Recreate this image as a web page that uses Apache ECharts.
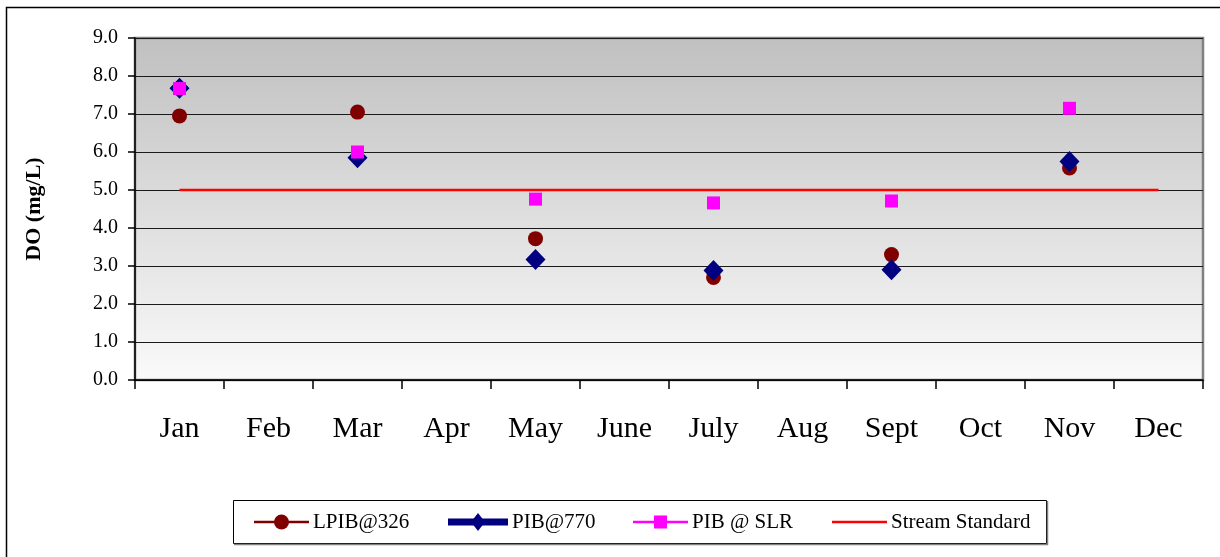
<!DOCTYPE html>
<html>
<head>
<meta charset="utf-8">
<script src="https://cdn.jsdelivr.net/npm/echarts@6/dist/echarts.min.js"></script>
<style>
  html, body { margin: 0; padding: 0; background: #ffffff; }
  #chart { width: 1220px; height: 557px; }
</style>
</head>
<body>
<div id="chart"></div>
<script>
// Dissolved oxygen by sampling month
const months = ['Jan', 'Feb', 'Mar', 'Apr', 'May', 'June', 'July', 'Aug', 'Sept', 'Oct', 'Nov', 'Dec'];
const lpib326 = [6.95, null, 7.05, null, 3.72, null, 2.70, null, 3.30, null, 5.58, null];
const pib770  = [7.68, null, 5.85, null, 3.17, null, 2.88, null, 2.90, null, 5.75, null];
const pibSlr  = [7.67, null, 6.00, null, 4.76, null, 4.66, null, 4.71, null, 7.15, null];
const streamStandard = [5.0, 5.0, 5.0, 5.0, 5.0, 5.0, 5.0, 5.0, 5.0, 5.0, 5.0, 5.0];
const yTicks = { min: 0, max: 9, interval: 1 };
const seriesNames = ['LPIB@326', 'PIB@770', 'PIB @ SLR', 'Stream Standard'];

const serif = 'Liberation Serif';
const colors = { lpib: '#800000', pib: '#000080', slr: '#ff00ff', std: '#ff0000' };
const chart = echarts.init(document.getElementById('chart'), null, { renderer: 'canvas' });

function markerSeries(name, data, symbol, size, color, z) {
  return {
    name: name,
    type: 'scatter',
    data: data,
    symbol: symbol,
    symbolSize: size,
    itemStyle: { color: color, opacity: 1, borderWidth: 0 },
    emphasis: { disabled: true },
    silent: true,
    z: z
  };
}

// Legend box drawn as a group: frame, line samples with markers, and names
const legendY = 522;
function legendItem(x0, x1, lineWidth, color, markerShape, label) {
  const parts = [
    { type: 'line', shape: { x1: x0, y1: legendY, x2: x1, y2: legendY },
      style: { stroke: color, lineWidth: lineWidth } }
  ];
  const cx = (x0 + x1) / 2;
  if (markerShape === 'circle') {
    parts.push({ type: 'circle', shape: { cx: cx, cy: legendY, r: 7.5 }, style: { fill: color } });
  } else if (markerShape === 'diamond') {
    parts.push({ type: 'polygon', shape: { points: [[cx, legendY - 9], [cx + 7, legendY], [cx, legendY + 9], [cx - 7, legendY]] },
      style: { fill: color } });
  } else if (markerShape === 'rect') {
    parts.push({ type: 'rect', shape: { x: cx - 6.5, y: legendY - 6.5, width: 13, height: 13 }, style: { fill: color } });
  }
  parts.push({ type: 'text', x: x1 + 4, y: legendY,
    style: { text: label, fontFamily: serif, fontSize: 21, fill: '#000000', verticalAlign: 'middle', align: 'left' } });
  return parts;
}

const legendElements = [].concat(
  [{ type: 'rect', shape: { x: 233.5, y: 500.5, width: 813, height: 43 },
     style: { fill: '#ffffff', stroke: '#000000', lineWidth: 1 } },
   { type: 'line', shape: { x1: 234, y1: 544.5, x2: 1048, y2: 544.5 },
     style: { stroke: '#808080', lineWidth: 1.5 } },
   { type: 'line', shape: { x1: 1047.5, y1: 501, x2: 1047.5, y2: 545 },
     style: { stroke: '#808080', lineWidth: 1.5 } }],
  legendItem(254, 309, 2.5, colors.lpib, 'circle', seriesNames[0]),
  legendItem(448, 508, 7, colors.pib, 'diamond', seriesNames[1]),
  legendItem(633, 688, 2.5, colors.slr, 'rect', seriesNames[2]),
  legendItem(832, 887, 2.5, colors.std, null, seriesNames[3])
);

chart.setOption({
  animation: false,
  grid: {
    left: 135, right: 17, top: 38, bottom: 177,
    show: true,
    borderColor: '#808080',
    borderWidth: 2.5,
    backgroundColor: new echarts.graphic.LinearGradient(0, 0, 0, 1, [
      { offset: 0, color: '#c0c0c0' },
      { offset: 1, color: '#fafafa' }
    ])
  },
  xAxis: {
    type: 'category',
    data: months,
    boundaryGap: true,
    axisLine: { show: true, lineStyle: { color: '#000000', width: 1.5 } },
    axisTick: { show: true, alignWithLabel: false, length: 9, lineStyle: { color: '#000000', width: 1.5 } },
    axisLabel: { fontFamily: serif, fontSize: 30, color: '#000000', margin: 34, interval: 0 },
    splitLine: { show: false }
  },
  yAxis: {
    type: 'value',
    min: yTicks.min, max: yTicks.max, interval: yTicks.interval,
    name: 'DO (mg/L)',
    nameLocation: 'middle',
    nameGap: 90,
    nameRotate: 90,
    nameTextStyle: { fontFamily: serif, fontSize: 22, fontWeight: 'bold', color: '#000000' },
    axisLine: { show: true, lineStyle: { color: '#000000', width: 1.5 } },
    axisTick: { show: true, length: 7, lineStyle: { color: '#000000', width: 1.5 } },
    axisLabel: { fontFamily: serif, fontSize: 20, color: '#000000', margin: 17,
      formatter: v => v.toFixed(1) },
    splitLine: { show: true, lineStyle: { color: '#1a1a1a', width: 1 } }
  },
  series: [
    markerSeries(seriesNames[0], lpib326, 'circle', 15, colors.lpib, 3),
    markerSeries(seriesNames[1], pib770, 'diamond', [20, 21], colors.pib, 4),
    markerSeries(seriesNames[2], pibSlr, 'rect', 13, colors.slr, 5),
    {
      name: seriesNames[3],
      type: 'line',
      data: streamStandard,
      symbol: 'none',
      showSymbol: false,
      lineStyle: { color: colors.std, width: 2.5 },
      itemStyle: { color: colors.std },
      emphasis: { disabled: true },
      silent: true,
      z: 2
    }
  ],
  graphic: [
    {
      type: 'rect',
      shape: { x: 6.5, y: 7.5, width: 1300, height: 600 },
      style: { fill: null, stroke: '#000000', lineWidth: 1.5 },
      silent: true,
      z: -1
    },
    {
      type: 'group',
      silent: true,
      children: legendElements
    }
  ]
});
</script>
</body>
</html>
